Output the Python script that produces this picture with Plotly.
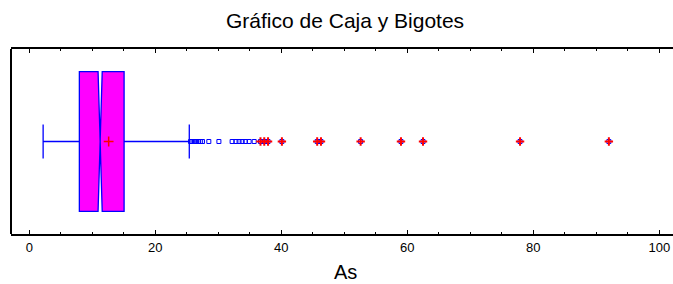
import plotly.graph_objects as go

# Box statistics (variable "As")
q1 = 7.95
median = 11.25
q3 = 15.05
lower_fence = 2.2
upper_fence = 25.4
notch_span = 0.33
mean_val = 12.6

# Outliers
near_outliers = [25.6, 25.8, 26.0, 26.2, 26.4, 26.6, 26.9, 27.2, 27.5,
                 28.5, 30.1, 32.2, 32.8, 33.3, 33.8, 34.3, 34.9, 35.7]
far_outliers = [36.7, 37.3, 37.9, 40.1, 45.7, 46.3, 52.6, 59.0, 62.5, 77.9, 92.0]

tick_vals = [0, 20, 40, 60, 80, 100]
tick_text = ["0", "20", "40", "60", "80", "100"]

BLUE = "#0000FF"
MAG = "#FF00FF"
RED = "#FF0000"

fig = go.Figure()
fig.add_trace(go.Box(
    q1=[q1], median=[median], q3=[q3],
    lowerfence=[lower_fence], upperfence=[upper_fence],
    notchspan=[notch_span], notched=True, notchwidth=0.5,
    y=[0], orientation="h",
    fillcolor=MAG, line=dict(color=BLUE, width=1.3),
    width=0.755, whiskerwidth=0.245, boxpoints=False,
    showlegend=False, hoverinfo="skip",
))
all_out = near_outliers + far_outliers
fig.add_trace(go.Scatter(
    x=all_out, y=[0] * len(all_out), mode="markers",
    marker=dict(symbol="square-open", size=4, color=BLUE, line=dict(width=1, color=BLUE)),
    showlegend=False, hoverinfo="skip",
))
fig.add_trace(go.Scatter(
    x=far_outliers, y=[0] * len(far_outliers), mode="markers",
    marker=dict(symbol="cross-thin", size=6, color=RED, line=dict(width=2, color=RED)),
    showlegend=False, hoverinfo="skip",
))
fig.add_trace(go.Scatter(
    x=[mean_val], y=[0], mode="markers",
    marker=dict(symbol="cross-thin", size=7, color=RED, line=dict(width=1.5, color=RED)),
    showlegend=False, hoverinfo="skip",
))

font_family = "Liberation Sans, Arial, sans-serif"
# the plotting frame runs past the right edge of the 673px window, as in the reference
FIG_W = 682
plot_w = FIG_W - 11
fig.update_layout(
    width=FIG_W, height=284,
    margin=dict(l=11, r=0, t=49, b=50, autoexpand=False),
    paper_bgcolor="white", plot_bgcolor="white",
    font=dict(family=font_family, color="black"),
    showlegend=False,
    xaxis=dict(
        range=[-2.9, -2.9 + plot_w / 6.3], tickvals=tick_vals, ticktext=tick_text,
        ticks="inside", ticklen=4, tickwidth=1, tickcolor="black",
        minor=dict(dtick=5, tick0=0, ticks="inside", ticklen=2, tickcolor="black"),
        showline=True, linecolor="black", linewidth=2, mirror="allticks",
        showgrid=False, zeroline=False, automargin=False,
        tickfont=dict(size=13, family=font_family, color="black"),
    ),
    yaxis=dict(
        range=[-0.5, 0.5], showticklabels=False, ticks="",
        showline=False, showgrid=False, zeroline=False, automargin=False,
    ),
    shapes=[
        dict(type="line", xref="paper", yref="paper", x0=0, x1=0, y0=0, y1=1,
             line=dict(color="black", width=2)),
    ],
    annotations=[
        dict(text="Gráfico de Caja y Bigotes", x=(345 - 11) / plot_w, xref="paper", y=1,
             yref="paper", showarrow=False, font=dict(size=21, family=font_family),
             xanchor="center", yanchor="middle", yshift=29),
        dict(text="As", x=(345 - 11) / plot_w, xref="paper", y=0, yref="paper", showarrow=False,
             font=dict(size=20, family=font_family), xanchor="center",
             yanchor="middle", yshift=-38),
    ],
)

# remove the default page margin so the figure starts at the window's top-left corner
fig.write_html(
    "out.html",
    config={"displayModeBar": False},
    post_script="document.body.style.margin='0';document.body.style.overflow='hidden';",
)
